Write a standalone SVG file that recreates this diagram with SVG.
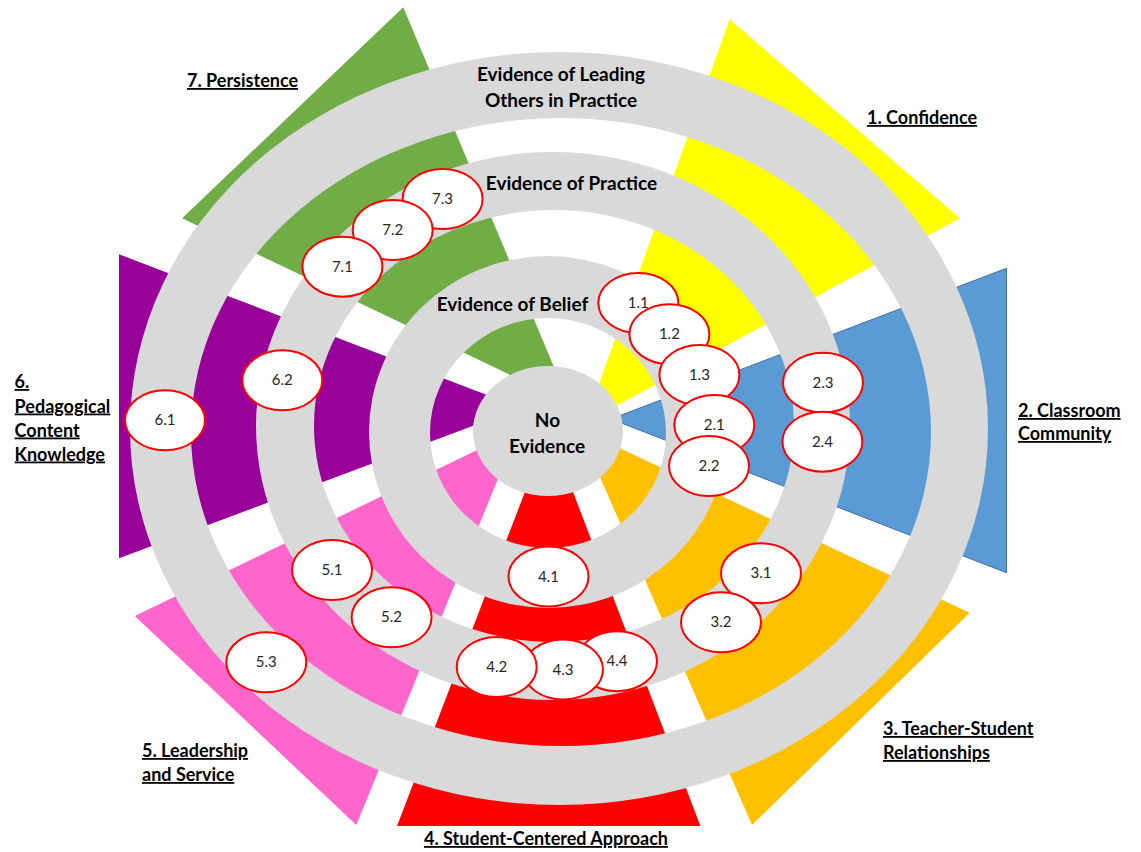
<svg xmlns="http://www.w3.org/2000/svg" width="1141" height="852" viewBox="0 0 1141 852">
<style>
.ring{fill:#D9D9D9;fill-rule:evenodd}
.rt{font-family:Lato,"Liberation Sans",sans-serif;font-weight:bold;font-size:19px;fill:#000;text-anchor:middle}
.lbl{font-family:Lato,"Liberation Sans",sans-serif;font-weight:bold;font-size:18px;fill:#000;text-decoration:underline}
.bub ellipse{fill:#fff;stroke:#FF0000;stroke-width:2}
.bub text{font-family:Lato,"Liberation Sans",sans-serif;font-size:15px;fill:#262626;text-anchor:middle}
</style>
<rect width="1141" height="852" fill="#fff"/>
<g id="wedges">
<polygon id="w7" points="403.3,7.3 182.1,218.3 569,403" fill="#70AD47"/>
<polygon id="w1" points="729.6,19.3 959.8,218.3 585,423" fill="#FFFF00"/>
<polygon id="w2" points="1006.4,268.3 1006.4,572.7 611,419" fill="#5B9BD5" stroke="#41719C" stroke-width="1"/>
<polygon id="w3" points="969.6,612.7 752,825 579,429" fill="#FFC000"/>
<polygon id="w4" points="397,826 700.4,826 549,429" fill="#FF0000"/>
<polygon id="w5" points="134.8,616 356.3,825 518,430" fill="#FF66CC"/>
<polygon id="w6" points="119,254.3 119,558.3 521,408" fill="#990099"/>
</g>
<g id="rings">
<path id="ring-leading" class="ring" d="M130,428.5 a429,376.5 0 1,0 858,0 a429,376.5 0 1,0 -858,0 Z M191,432 a370,314 0 1,0 740,0 a370,314 0 1,0 -740,0 Z"/>
<path id="ring-practice" class="ring" d="M256,426 a297,274 0 1,0 594,0 a297,274 0 1,0 -594,0 Z M314,426 a240,216 0 1,0 480,0 a240,216 0 1,0 -480,0 Z"/>
<path id="ring-belief" class="ring" d="M369,432 a179,176 0 1,0 358,0 a179,176 0 1,0 -358,0 Z M430,433 a118,115 0 1,0 236,0 a118,115 0 1,0 -236,0 Z"/>
<ellipse id="center" cx="548" cy="431" rx="75" ry="65" fill="#D9D9D9"/>
</g>
<g id="ring-labels">
<text class="rt" x="561" y="81">Evidence of Leading</text>
<text class="rt" x="561" y="107">Others in Practice</text>
<text class="rt" x="571.5" y="190">Evidence of Practice</text>
<text class="rt" x="512.5" y="311">Evidence of Belief</text>
<text class="rt" x="547.5" y="427">No</text>
<text class="rt" x="547" y="453">Evidence</text>
</g>
<g id="categories">
<text class="lbl" x="187" y="87">7. Persistence</text>
<text class="lbl" x="867" y="124">1. Confidence</text>
<text class="lbl" x="1018" y="417">2. Classroom</text>
<text class="lbl" x="1018" y="440">Community</text>
<text class="lbl" x="883" y="735">3. Teacher-Student</text>
<text class="lbl" x="883" y="759">Relationships</text>
<text class="lbl" x="424" y="845">4. Student-Centered Approach</text>
<text class="lbl" x="142" y="757">5. Leadership</text>
<text class="lbl" x="142" y="781">and Service</text>
<text class="lbl" x="14.6" y="388">6.</text>
<text class="lbl" x="14.6" y="412.5">Pedagogical</text>
<text class="lbl" x="14.6" y="436.5">Content</text>
<text class="lbl" x="14.6" y="460.5">Knowledge</text>
</g>
<g id="bubbles" class="bub">
<g id="b7-3"><ellipse cx="442.6" cy="199" rx="40" ry="30"/><text x="442.6" y="204">7.3</text></g>
<g id="b7-2"><ellipse cx="392.7" cy="230" rx="40" ry="30"/><text x="392.7" y="235">7.2</text></g>
<g id="b7-1"><ellipse cx="342.4" cy="266.7" rx="40" ry="30"/><text x="342.4" y="271.7">7.1</text></g>
<g id="b6-2"><ellipse cx="282.3" cy="380.3" rx="40" ry="30"/><text x="282.3" y="385.3">6.2</text></g>
<g id="b6-1"><ellipse cx="165" cy="420.3" rx="40" ry="30"/><text x="165" y="425.3">6.1</text></g>
<g id="b1-1"><ellipse cx="638.3" cy="303" rx="40" ry="30"/><text x="638.3" y="308">1.1</text></g>
<g id="b1-2"><ellipse cx="669.4" cy="334.2" rx="40" ry="30"/><text x="669.4" y="339.2">1.2</text></g>
<g id="b1-3"><ellipse cx="699.4" cy="375" rx="40" ry="30"/><text x="699.4" y="380">1.3</text></g>
<g id="b2-1"><ellipse cx="714.3" cy="425" rx="40" ry="30"/><text x="714.3" y="430">2.1</text></g>
<g id="b2-2"><ellipse cx="709" cy="466" rx="40" ry="30"/><text x="709" y="471">2.2</text></g>
<g id="b2-3"><ellipse cx="823" cy="382.7" rx="40" ry="30"/><text x="823" y="387.7">2.3</text></g>
<g id="b2-4"><ellipse cx="822.4" cy="441.7" rx="40" ry="30"/><text x="822.4" y="446.7">2.4</text></g>
<g id="b3-1"><ellipse cx="761" cy="573.3" rx="40" ry="30"/><text x="761" y="578.3">3.1</text></g>
<g id="b3-2"><ellipse cx="721" cy="622.3" rx="40" ry="30"/><text x="721" y="627.3">3.2</text></g>
<g id="b4-1"><ellipse cx="548.5" cy="576.5" rx="40" ry="30"/><text x="548.5" y="581.5">4.1</text></g>
<g id="b4-4"><ellipse cx="617" cy="661.2" rx="40" ry="30"/><text x="617" y="666.2">4.4</text></g>
<g id="b4-3"><ellipse cx="563" cy="669.5" rx="40" ry="30"/><text x="563" y="674.5">4.3</text></g>
<g id="b4-2"><ellipse cx="496.7" cy="667" rx="40" ry="30"/><text x="496.7" y="672">4.2</text></g>
<g id="b5-1"><ellipse cx="332" cy="570" rx="40" ry="30"/><text x="332" y="575">5.1</text></g>
<g id="b5-2"><ellipse cx="391.6" cy="617.3" rx="40" ry="30"/><text x="391.6" y="622.3">5.2</text></g>
<g id="b5-3"><ellipse cx="266.3" cy="662.3" rx="40" ry="30"/><text x="266.3" y="667.3">5.3</text></g>
</g>
</svg>
